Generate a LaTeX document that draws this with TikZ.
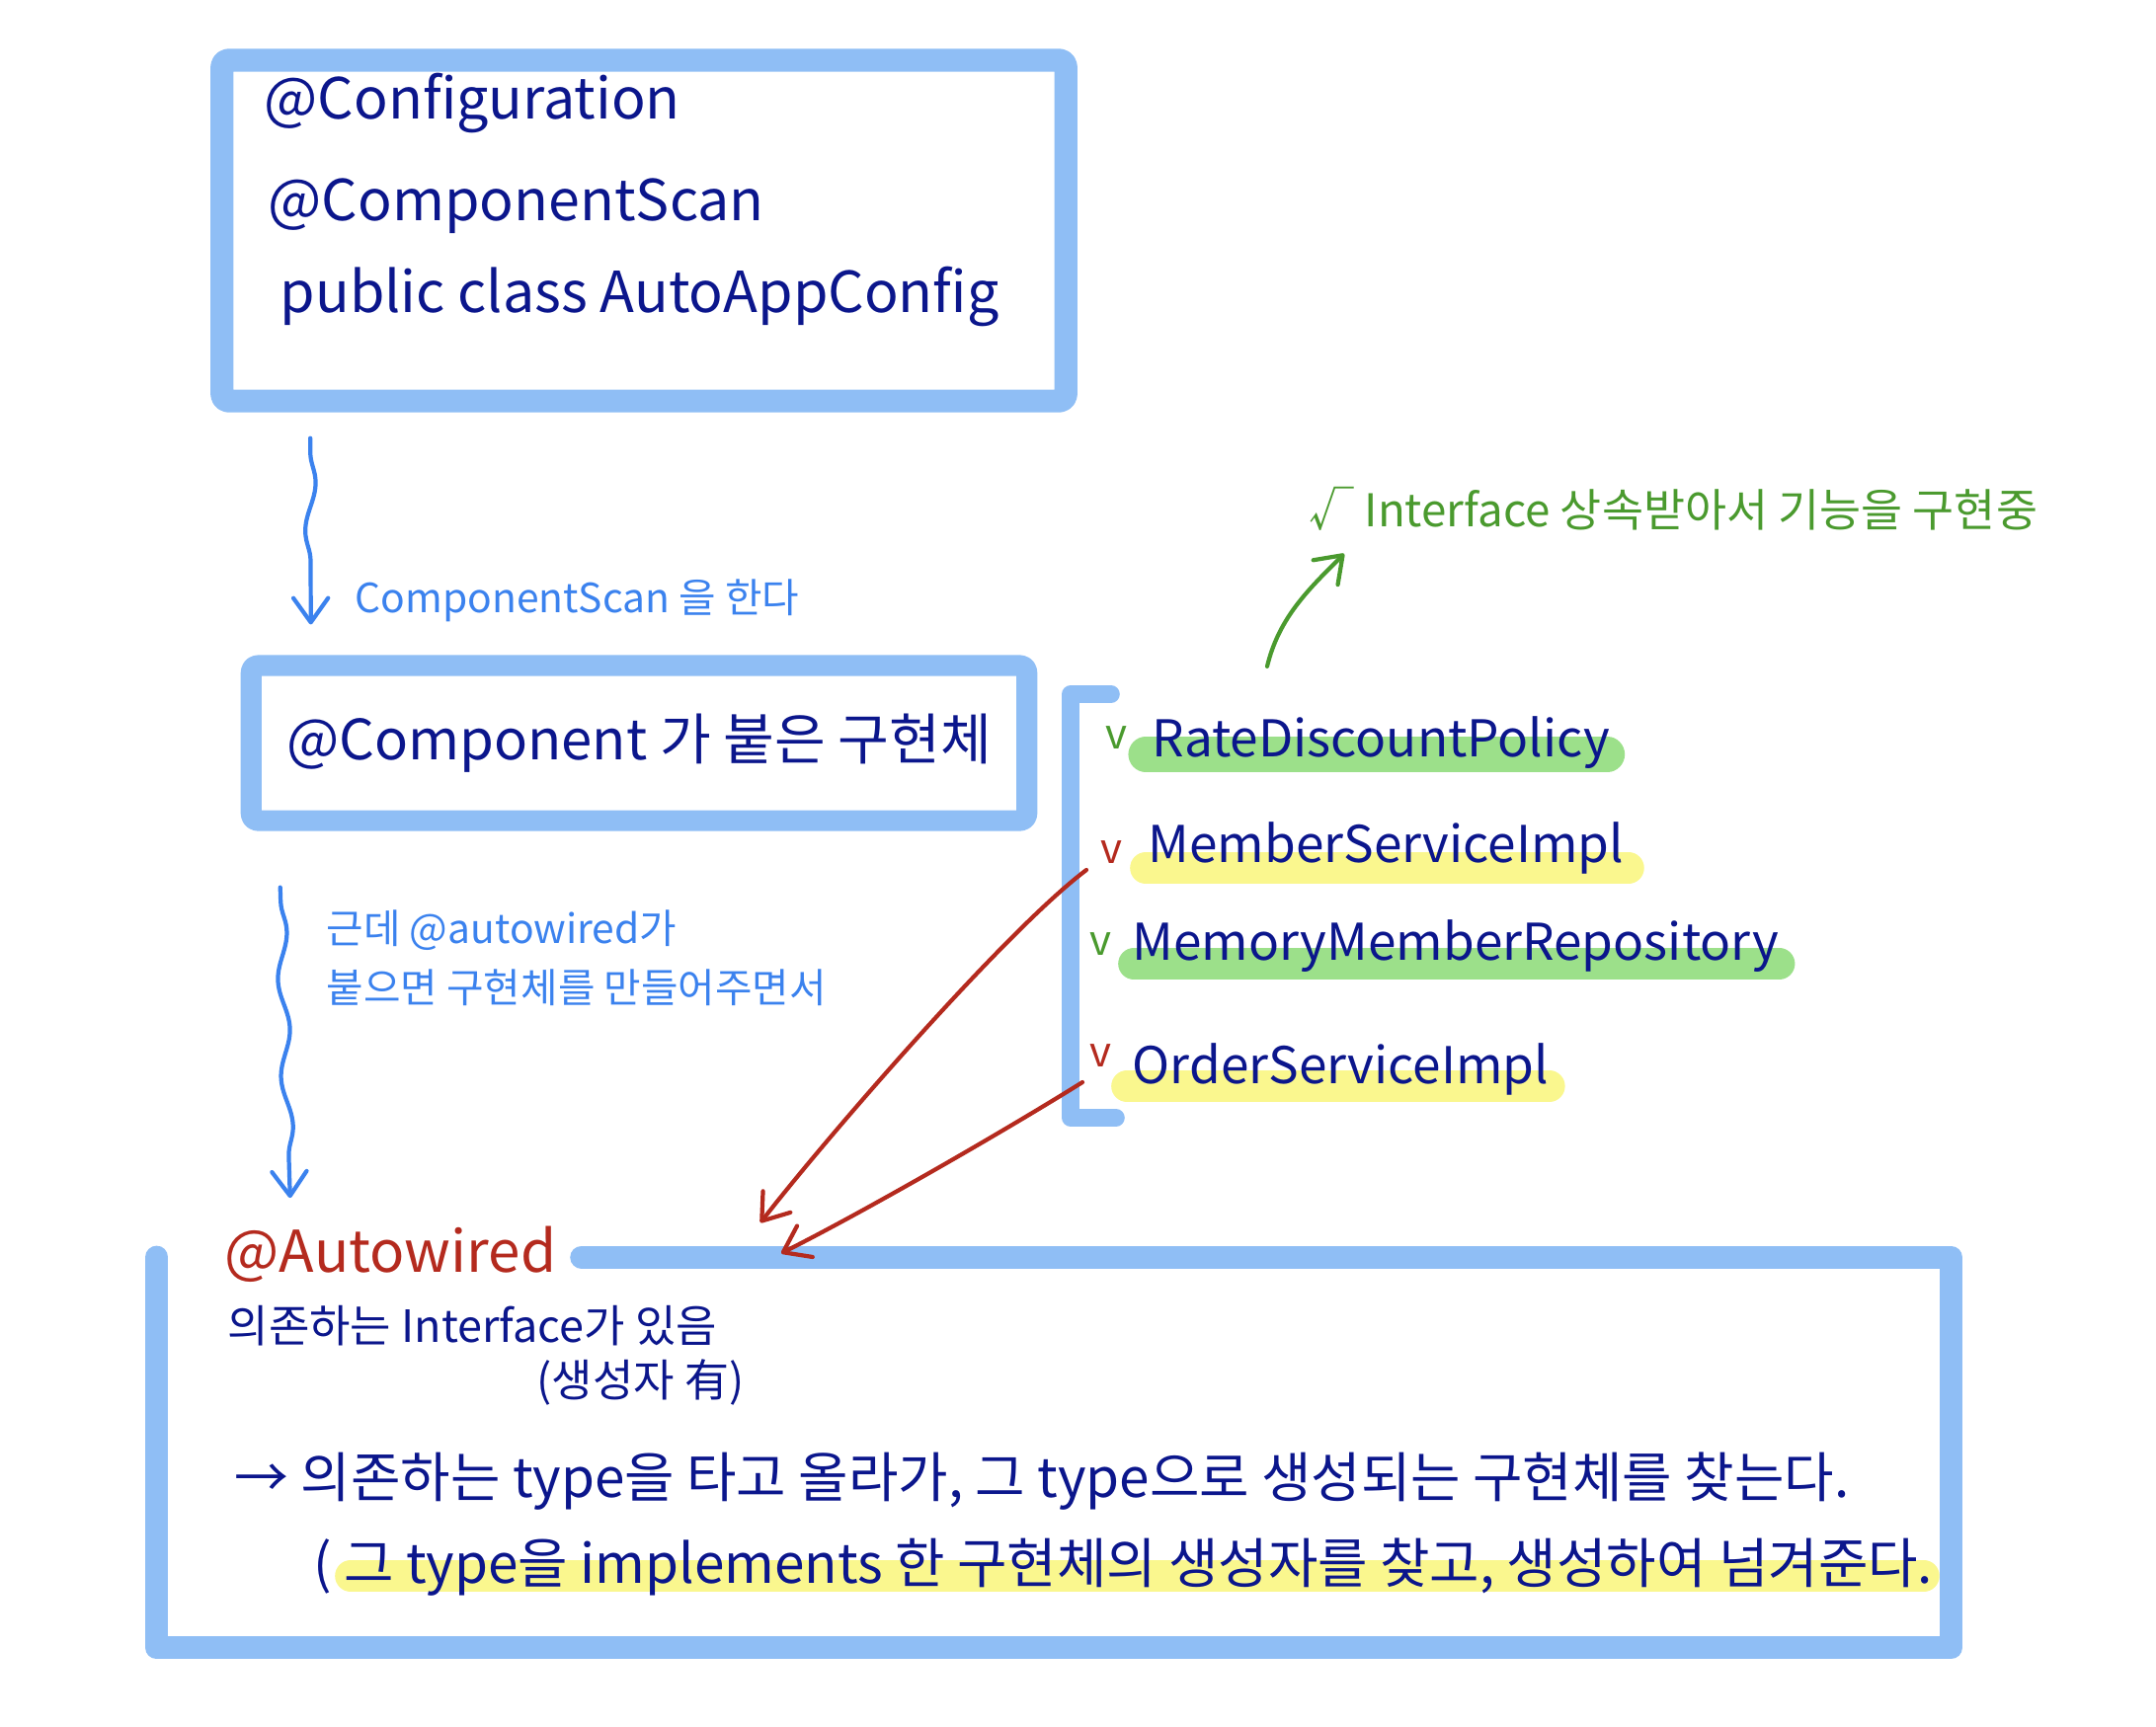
\documentclass[tikz,border=0pt]{standalone}
\usepackage{fontspec}
\newfontfamily\kr{Noto Sans CJK KR}
\usetikzlibrary{arrows.meta,calc,decorations.pathmorphing,backgrounds}

\definecolor{frameblue}{HTML}{8FBEF5}
\definecolor{penblue}{HTML}{3B82EE}
\definecolor{ink}{HTML}{0B168C}
\definecolor{penred}{HTML}{B42A1E}
\definecolor{pengreen}{HTML}{4A9A2E}
\definecolor{hlgreen}{HTML}{9CE08A}
\definecolor{hlyellow}{HTML}{FAF78E}

\begin{document}
\begin{tikzpicture}[
  x=0.01cm, y=-0.01cm,
  frame/.style={draw=frameblue, line width=6.6pt, line cap=round, line join=round, rounded corners=2pt},
  hand/.style={text=ink, inner sep=0pt, anchor=west, font=\kr\fontsize{15.6}{18}\selectfont},
  cfgtxt/.style={hand, font=\kr\fontsize{16.3}{19}\selectfont},
  item/.style={hand, font=\kr\fontsize{14.6}{17}\selectfont},
  remark/.style={hand, text=penblue, align=left, font=\kr\fontsize{11.6}{17}\selectfont},
  chk/.style={inner sep=0pt, font=\kr\fontsize{12}{14}\selectfont},
  hl/.style={line width=9pt, line cap=round},
  pen/.style={line width=1.2pt, line cap=round, -{Straight Barb[length=7pt,width=10pt,round]}},
  wave/.style={pen, draw=penblue, decorate,
    decoration={snake, amplitude=1.5pt, segment length=28pt, pre length=4pt, post length=12pt}}
]
\useasboundingbox (0,0) rectangle (2183,1748);

% config class
\node[frame, minimum width=8.54cm, minimum height=3.45cm] (cfg) at (652,233.5) {};
\node[cfgtxt] (l1) at (267,104) {@Configuration};
\node[cfgtxt] (l2) at (271,209) {@ComponentScan};
\node[cfgtxt] (l3) at (283,300) {public class AutoAppConfig};

\node[frame, line width=6pt, minimum width=7.85cm, minimum height=1.57cm, text=ink,
  font=\kr\fontsize{16}{19}\selectfont] (comp) at (647,752.5) {@Component 가 붙은 구현체};

\draw[wave] ($(cfg.south west)+(101,26)$) -- ($(comp.north west)+(71,-31)$);
\node[remark] (scan) at (359,608) {ComponentScan 을 한다};

% bean list
\draw[frame, line width=5pt, rounded corners=0pt] (1125,703) -- (1084,703) -- (1084,1132) -- (1130,1132);
\node[chk, text=pengreen] (c1) at (1130,747) {v};
\node[item] (rate) at (1166,752) {RateDiscountPolicy};
\node[chk, text=penred] (c2) at (1125,863) {v};
\node[item] (msi) at (1162,859) {MemberServiceImpl};
\node[chk, text=pengreen] (c3) at (1114,956) {v};
\node[item] (repo) at (1146,958) {MemoryMemberRepository};
\node[chk, text=penred] (c4) at (1114,1069) {v};
\node[item] (osi) at (1146,1083) {OrderServiceImpl};

\node[hand, text=pengreen, font=\kr\fontsize{13}{15}\selectfont] (iface) at (1325,515)
  {√ Interface 상속받아서 기능을 구현중};
\draw[pen, draw=pengreen] ($(rate.west |- rate.north)+(117,-50)$)
  .. controls +(12,-50) and +(-35,35) .. ($(iface.south west)+(36,23)$);

% autowired box
\node[minimum width=18.14cm, minimum height=3.94cm] (autobox) at (1067,1471) {};
\node[hand, text=penred, font=\kr\fontsize{16.6}{20}\selectfont] (autowired) at (227,1270) {@Autowired};
\draw[frame, rounded corners=0pt] ($(autowired.east |- autobox.north)+(25,0)$) -- (autobox.north east)
  -- (autobox.south east) -- (autobox.south west) -- (autobox.north west);

\draw[wave] ($(comp.south west)+(40,57)$) -- ($(autobox.north west)+(135,-60)$);
\node[remark] (wire) at (330,970) {근데 @autowired가\\붙으면 구현체를 만들어주면서};

\node[hand, font=\kr\fontsize{12.8}{15}\selectfont] (dep) at (230,1343) {의존하는 Interface가 있음};
\node[hand, font=\kr\fontsize{12.8}{15}\selectfont] (ctor) at (543,1400) {(생성자 有)};
\node[hand] (find) at (237,1500) {→ 의존하는 type을 타고 올라가, 그 type으로 생성되는 구현체를 찾는다.};
\node[hand] (impl) at (317,1587) {( 그 type을 implements 한 구현체의 생성자를 찾고, 생성하여 넘겨준다.};

\draw[pen, draw=penred] ($(c2)+(-25,18)$) .. controls +(-80,60) and +(70,-90) .. ($(autobox.north)+(-297,-35)$);
\draw[pen, draw=penred] ($(c4)+(-18,27)$) .. controls +(-80,50) and +(80,-40) .. ($(autobox.north)+(-276,-4)$);

% highlighter
\begin{scope}[on background layer]
\draw[hl, hlgreen, line width=10pt] ($(rate.west)+(-6,12)$) -- ($(rate.east)+(-3,12)$);
\draw[hl, hlyellow] ($(msi.west)+(-2,20)$) -- ($(msi.east)+(4,20)$);
\draw[hl, hlgreen] ($(repo.west)+(2,18)$) -- ($(repo.east)+(0,18)$);
\draw[hl, hlyellow] ($(osi.west)+(-5,17)$) -- ($(osi.east)+(0,17)$);
\draw[hl, hlyellow] ($(impl.west)+(38,9)$) -- ($(impl.east)+(-10,9)$);
\end{scope}
\end{tikzpicture}
\end{document}
